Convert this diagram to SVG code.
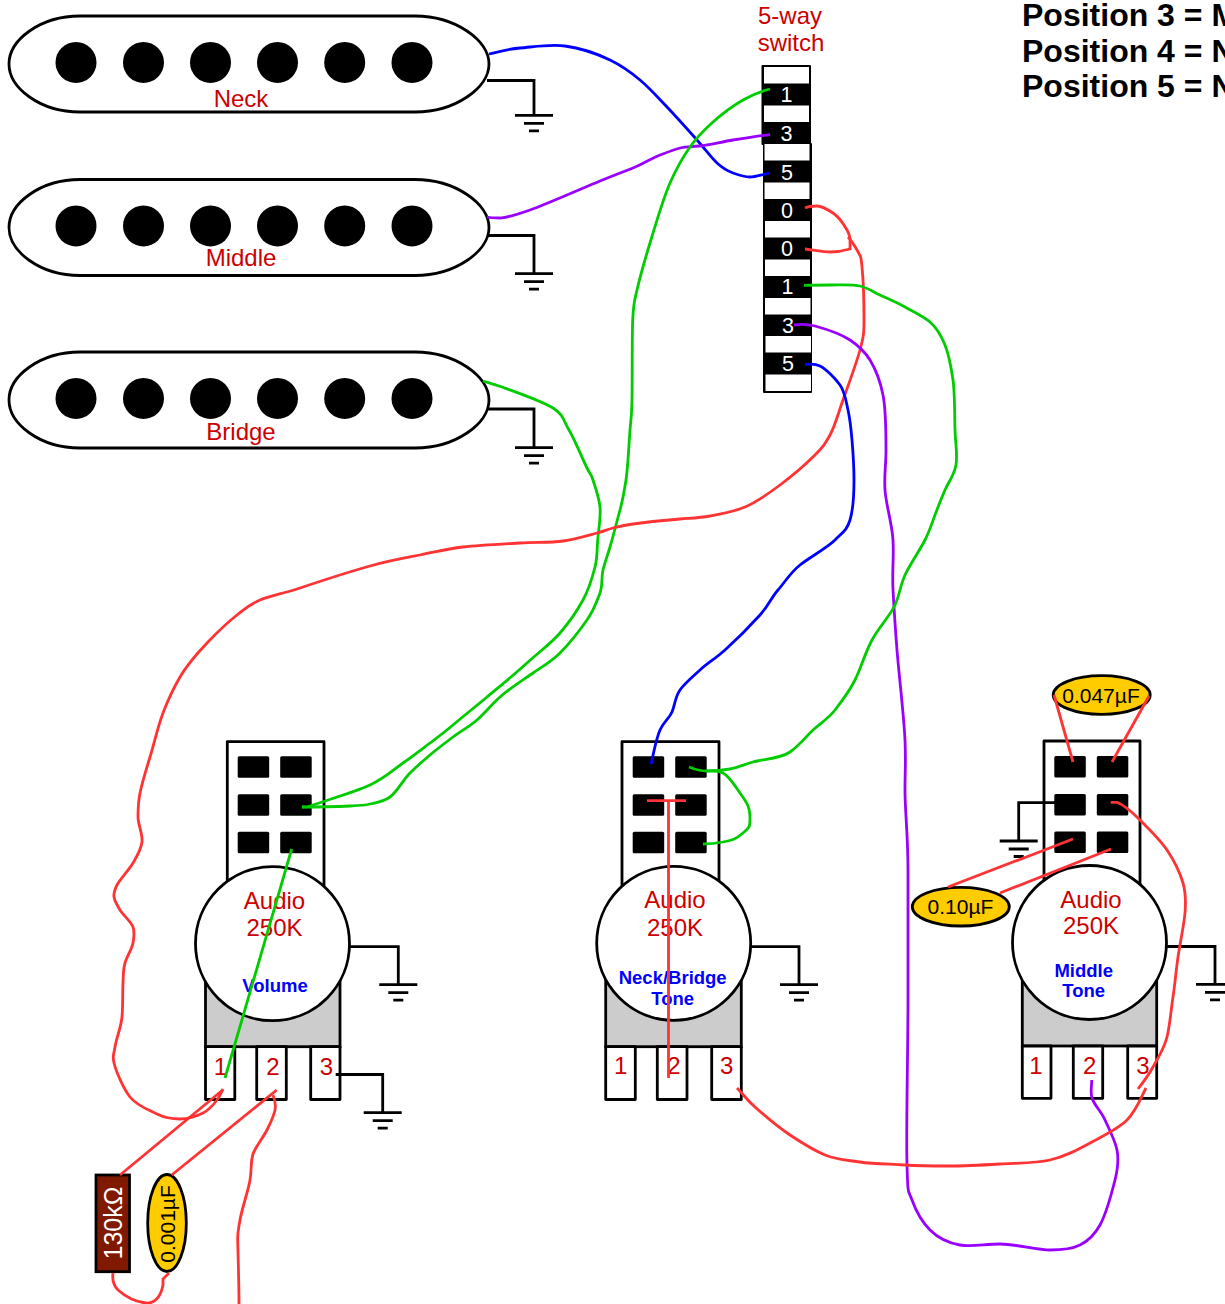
<svg xmlns="http://www.w3.org/2000/svg" width="1225" height="1304" viewBox="0 0 1225 1304">
<style>
text{font-family:"Liberation Sans",Arial,sans-serif}
.lbl{font-size:24px;fill:#cc0000;text-anchor:middle}
.name{font-size:18.5px;font-weight:bold;fill:#0000ff;text-anchor:middle}
.num{font-size:21.500px;fill:#fff;text-anchor:middle}
.cap{font-size:21px;fill:#000;text-anchor:middle}
.pos{font-size:32px;font-weight:bold;fill:#000}
.body{fill:#fff;stroke:#000;stroke-width:2.800;stroke-linejoin:round}
.grey{fill:#ccc;stroke:#000;stroke-width:2.800}
.capb{fill:#ffcc00;stroke:#000;stroke-width:2.800}
.k{fill:none;stroke:#000;stroke-width:2.800}
.w{fill:none;stroke-width:2.800;stroke-linecap:butt}
.r{stroke:#ff3333}.g{stroke:#00cc00}.b{stroke:#0000ff}.p{stroke:#9900ff}
</style>
<defs>
<g id="gnd"><path class="k" d="M-19,0H19M-10,8H10M-5,15.500H5"/></g>
<g id="coil">
<path class="body" d="M80,16H415C455,16 489,40 489,64C489,88 455,112 415,112H80C40,112 9,88 9,64C9,40 40,16 80,16Z"/>
<circle cx="76" cy="62.400" r="20.500"/><circle cx="143.500" cy="62.400" r="20.500"/><circle cx="210.500" cy="62.400" r="20.500"/><circle cx="277.500" cy="62.400" r="20.500"/><circle cx="344.700" cy="62.400" r="20.500"/><circle cx="412" cy="62.400" r="20.500"/>
</g>
<g id="pads">
<rect x="0" y="0" width="31.500" height="21.500" rx="1.500"/><rect x="42.500" y="0" width="31.500" height="21.500" rx="1.500"/>
<rect x="0" y="38" width="31.500" height="21.500" rx="1.500"/><rect x="42.500" y="38" width="31.500" height="21.500" rx="1.500"/>
<rect x="0" y="75.500" width="31.500" height="21.500" rx="1.500"/><rect x="42.500" y="75.500" width="31.500" height="21.500" rx="1.500"/>
</g>
</defs>
<rect width="1225" height="1304" fill="#fff"/>

<g id="legend">
<text class="pos" x="1022" y="26">Position 3 = M</text>
<text class="pos" x="1022" y="62">Position 4 = N</text>
<text class="pos" x="1022" y="97">Position 5 = N</text>
</g>

<g id="neck-pickup">
<use href="#coil"/>
<text class="lbl" x="241" y="107">Neck</text>
<path class="k" d="M487,80.500H534V115.300"/><use href="#gnd" x="534" y="115.300"/>
</g>
<g id="middle-pickup">
<use href="#coil" y="163.500"/>
<text class="lbl" x="241" y="266">Middle</text>
<path class="k" d="M487,235.500H534V273.700"/><use href="#gnd" x="534" y="273.700"/>
</g>
<g id="bridge-pickup">
<use href="#coil" y="336"/>
<text class="lbl" x="241" y="440">Bridge</text>
<path class="k" d="M488,409H534V447.700"/><use href="#gnd" x="534" y="447.700"/>
</g>

<g id="switch">
<text class="lbl" x="790" y="24">5-way</text>
<text class="lbl" x="791" y="51">switch</text>
<rect x="761.500" y="65" width="49.500" height="80" rx="1"/>
<rect x="763" y="143" width="49" height="250" rx="1"/>
<g fill="#fff">
<rect x="764" y="67" width="45" height="16.500"/>
<rect x="764" y="105.500" width="45" height="16.500"/>
<rect x="764.500" y="144" width="45" height="16.500"/>
<rect x="764.500" y="182.500" width="45" height="16.500"/>
<rect x="765" y="221" width="45" height="16.500"/>
<rect x="765" y="259.500" width="45" height="16.500"/>
<rect x="765" y="298" width="45.500" height="16.500"/>
<rect x="765.500" y="336" width="45.500" height="16.500"/>
<rect x="765.500" y="374.500" width="45.500" height="16.500"/>
</g>
<text class="num" x="786.500" y="101.500">1</text>
<text class="num" x="786.500" y="141">3</text>
<text class="num" x="787" y="179.500">5</text>
<text class="num" x="787" y="217.500">0</text>
<text class="num" x="787" y="256">0</text>
<text class="num" x="787.500" y="294">1</text>
<text class="num" x="788" y="332.500">3</text>
<text class="num" x="788" y="371">5</text>
</g>

<g id="volume-pot">
<rect class="body" x="227.300" y="741.700" width="96.700" height="150"/>
<use href="#pads" x="237.700" y="756.300"/>
<rect class="grey" x="205.500" y="965" width="134.500" height="81.700"/>
<rect class="body" x="205.500" y="1046.700" width="29.300" height="52.800"/>
<rect class="body" x="256.700" y="1046.700" width="29.600" height="52.800"/>
<rect class="body" x="310.700" y="1046.700" width="29.300" height="52.800"/>
<circle class="body" cx="272.500" cy="943.700" r="77"/>
<text class="lbl" x="274.500" y="908.500">Audio</text>
<text class="lbl" x="274.500" y="936">250K</text>
<text class="name" x="275" y="991.500">Volume</text>
<text class="lbl" x="220.500" y="1075">1</text>
<text class="lbl" x="273" y="1075">2</text>
<text class="lbl" x="326.500" y="1075">3</text>
<path class="k" d="M350,946.700H398.300V984.700"/><use href="#gnd" x="398.300" y="984.700"/>
<path class="k" d="M335.700,1074.500H382.700V1112.700"/><use href="#gnd" x="382.700" y="1112.700"/>
</g>

<g id="tone-pot-neck-bridge">
<rect class="body" x="622" y="741.700" width="97" height="150"/>
<use href="#pads" x="632.700" y="756.300"/>
<rect class="grey" x="605.700" y="965" width="135.600" height="81.700"/>
<rect class="body" x="605.700" y="1046.700" width="29.600" height="52.800"/>
<rect class="body" x="657.300" y="1046.700" width="29.700" height="52.800"/>
<rect class="body" x="711.700" y="1046.700" width="29.600" height="52.800"/>
<circle class="body" cx="673.700" cy="943.300" r="77"/>
<text class="lbl" x="675" y="908">Audio</text>
<text class="lbl" x="675" y="935.500">250K</text>
<text class="name" x="672.700" y="984">Neck/Bridge</text>
<text class="name" x="672.700" y="1004.500">Tone</text>
<text class="lbl" x="620.700" y="1073.500">1</text>
<text class="lbl" x="674" y="1073.500">2</text>
<text class="lbl" x="726.700" y="1073.500">3</text>
<path class="k" d="M751,946.700H799V984.700"/><use href="#gnd" x="799" y="984.700"/>
</g>

<g id="tone-pot-middle">
<rect class="body" x="1044" y="741" width="96" height="150"/>
<use href="#pads" x="1054.300" y="756"/>
<rect class="grey" x="1022.300" y="965" width="134.400" height="81"/>
<rect class="body" x="1022.300" y="1046" width="28.700" height="52.300"/>
<rect class="body" x="1073.300" y="1046" width="29.400" height="52.300"/>
<rect class="body" x="1127.700" y="1046" width="29" height="52.300"/>
<circle class="body" cx="1089.500" cy="942.500" r="77"/>
<text class="lbl" x="1091" y="907.500">Audio</text>
<text class="lbl" x="1091" y="934">250K</text>
<text class="name" x="1083.700" y="976.700">Middle</text>
<text class="name" x="1083.700" y="996.700">Tone</text>
<text class="lbl" x="1036" y="1073.500">1</text>
<text class="lbl" x="1089.800" y="1073.500">2</text>
<text class="lbl" x="1143" y="1073.500">3</text>
<path class="k" d="M1166,946.500H1215V984.300"/><use href="#gnd" x="1215" y="984.300"/>
<path class="k" d="M1056,802.700H1018.700V841"/><use href="#gnd" x="1018.700" y="841"/>
</g>

<g id="cap-047">
<ellipse class="capb" cx="1101.700" cy="695" rx="48.500" ry="19.300"/>
<text class="cap" x="1101" y="703">0.047µF</text>
</g>
<g id="cap-010">
<ellipse class="capb" cx="960.800" cy="906.700" rx="48.500" ry="19.300"/>
<text class="cap" x="960.500" y="914">0.10µF</text>
</g>
<g id="cap-001">
<ellipse class="capb" cx="167" cy="1223" rx="19.300" ry="48.500"/>
<text class="cap" transform="translate(174.500 1224) rotate(-90)">0.001µF</text>
</g>
<g id="resistor">
<rect x="96" y="1175" width="33.500" height="96.700" fill="#7f1a00" stroke="#000" stroke-width="2.800"/>
<text transform="translate(121.500 1223) rotate(-90)" font-size="25" fill="#fff" text-anchor="middle">130kΩ</text>
</g>

<g id="connectors">
<path class="w b" d="M489,54C494,53 507,49 520,48S550,44 565,46S597.500,54 610,60S630.500,72 640,80S657.500,97 667,107S689,131 697,140S711,157.500 717,163S727.500,171 733,173S744,177 750,177S760,175 770,173"/>
<path class="w p" d="M487,217C491,218 495,218 500,218S513,216 530,210S583,188 600,181S623,172 633,168S652,158 660,155S673,150 680,148S691,147 700,146S721,142 733,140S757,136 770,134.700"/>
<path class="w g" d="M770,89C762,91 752.500,94.500 743,100S722,114 713,122S697,137 690,147S677,167 670,183S655.500,225 650,243S640,277 637,290S633.500,302 632.700,320S632.400,382 632,400S631,417 630,430S628,467 626,480S623,499 620,510S613,537 610,547S605,562 603,570S603,585 600,593S594,610 587,620S569,644 560,653S543,666 533,673S509,689 500,697S485,713 477,720S461,731 453,737S437,749 430,755S417,766 410,773S397,792 390,797S377,802.500 370,804S361,805.500 350,806S318,807 302,807"/>
<path class="w g" d="M483,381C489,383 490,382.500 502,387S542,401 553,408S563,420 569,430S583,460 587,468S591,473.500 593,480S599,497 600,507S598.500,530 597.700,540S597.500,557 595,567S589,589 583,600S569,622.500 560,633S539,652 527,663S499,687 487,697S462.500,717 453,725S438,737 430,743S413,756 403,763S385,778 370,785S324,801 313,805S308,806 302,807"/>
<path class="w r" d="M848,237C850,239 853,243 857,250S860.800,255.300 862,267S864,306 864,320S863.500,337 860,350S848,386 843,400S835,426 830,435S823,447 815,455S792,476 780,485S757,502 745,507S721,514 710,516S693,518 680,519S644,522.500 633,524S619,526.500 613,528S605,531 597,533S576,539 563,541S537,542 520,543S480,545 463,547S435.500,552 420,555S390,560.500 370,566S318,582 300,588S270.500,595.500 260,600S246,608 237,615S216.500,633 207,643S187,665 180,677S168,700 163,713S154,744 150,757S142,783 140,793S138,809 138,817S143,834 142,842S137,856 133,863S120,879 117,885S113.500,893 114,897S117,905 120,910S131,921.500 133,927S134,937 133,943S127,956 125,963S123.500,974 123,983S123,1006 122,1017S116,1039 115,1047S112,1055 114,1063S123,1088 130,1097S149,1110 157,1114S172,1119 180,1119S197,1116 203,1113S214,1104 217,1100S220,1095 223,1089"/>
<path class="w r" d="M805,208C809,206 813,206 817,206S827,209 833,213S843,223 847,230S850,240 850,249C843,251 836,252 830,252S813,250 805,249"/>
<path class="w b" d="M805,364.500C810,364 814,363 820,366S835,378 840,385S846,401 848,410S851,428 852,440S854,467 854,480S853,510 850,520S843,532 835,540S810,557 800,565S785,582 778,590S769,605 760,615S735,641 725,650S707.500,663 700,670S685,683 680,690S675,705 672,712S664,721 660,730S654,752 651,764"/>
<path class="w p" d="M794,325C800,324 806,323.500 815,326S841,334 850,340S864.500,351 870,360S880,380 883,395S886,434 886,450S884,475 885,490S892,523 893,540S892,572 893,590S895,625 897,650S904,717 905,740S905,768 905,790S908,835 908,870S908,951 908,1000S906,1132 907,1165S908,1189 912,1200S922,1222 930,1230S948,1243 960,1245S985,1244 1000,1244S1037,1250 1050,1250S1072,1249 1080,1245S1094,1236 1100,1225S1112,1192 1115,1180S1119,1160 1117,1150S1109,1129 1105,1120S1094,1105 1092,1098S1092,1086 1091.700,1080"/>
<path class="w g" d="M804,285.300C812,285 821,285 830,285S852,284 860,286S872.500,291.500 880,295S897,302.500 905,307S923,316 930,322S941,335 945,345S951,366 953,380S954.500,416 955,430S957.700,455 956,465S948.500,482 945,490S938,507 935,515S930,530 925,540S910,564 905,575S900,594 895,605S879,627 872,640S861,668 855,680S842,701 835,710S820.500,723 813,730S800,745 790,752S763,759 753,762S738,767.500 730,769S714,771 707,771S696,770 689,767"/>
<path class="w g" d="M707,771C712,771 717,770 723,773S733,783 740,793S750,807 750,817S750,827 743,833S733,840 723,842S711,844 703,844"/>
<path class="w r" d="M647,800.700H686M668.500,800.700V1078"/>
<path class="w r" d="M737,1088C743,1094 746,1099 755,1107S778,1127 790,1135S813,1150 825,1155S847,1160 860,1162S890,1164 905,1165S934,1166 950,1166S983,1165 1000,1164S1035,1163.500 1050,1160S1077,1150 1090,1143S1118,1129 1127,1120S1140,1100 1146,1088"/>
<path class="w r" d="M1110.700,802.300H1117C1124,805 1132,812 1140,820S1160,839.500 1167,850S1180,872.500 1183,883S1186,901 1185,913S1180,943 1178,957S1175,984 1173,997S1170,1025 1167,1037S1158,1058 1153,1067S1145,1080 1138,1089"/>
<path class="w r" d="M1054,695L1073,762M1149,696L1112,762M948,887L1073,839M1000,893L1111,849"/>
<path class="w g" d="M291.700,849L225,1078"/>
<path class="w r" d="M120,1175L222.700,1090M171.700,1175L276.700,1090"/>
<path class="w r" d="M273,1095C275,1100 276,1105 275,1110S271,1122 267,1130S255,1147 252.700,1155S252,1168 250,1180S242,1208 240,1220S237.500,1232 237.700,1240S239,1285 239,1304"/>
<path class="w r" d="M113,1273C112,1280 113,1285 118,1290C126,1297 136,1302 146,1303C155,1304 161,1296 163,1285C163,1283 163,1280 163,1279L169,1273"/>
</g>
</svg>
